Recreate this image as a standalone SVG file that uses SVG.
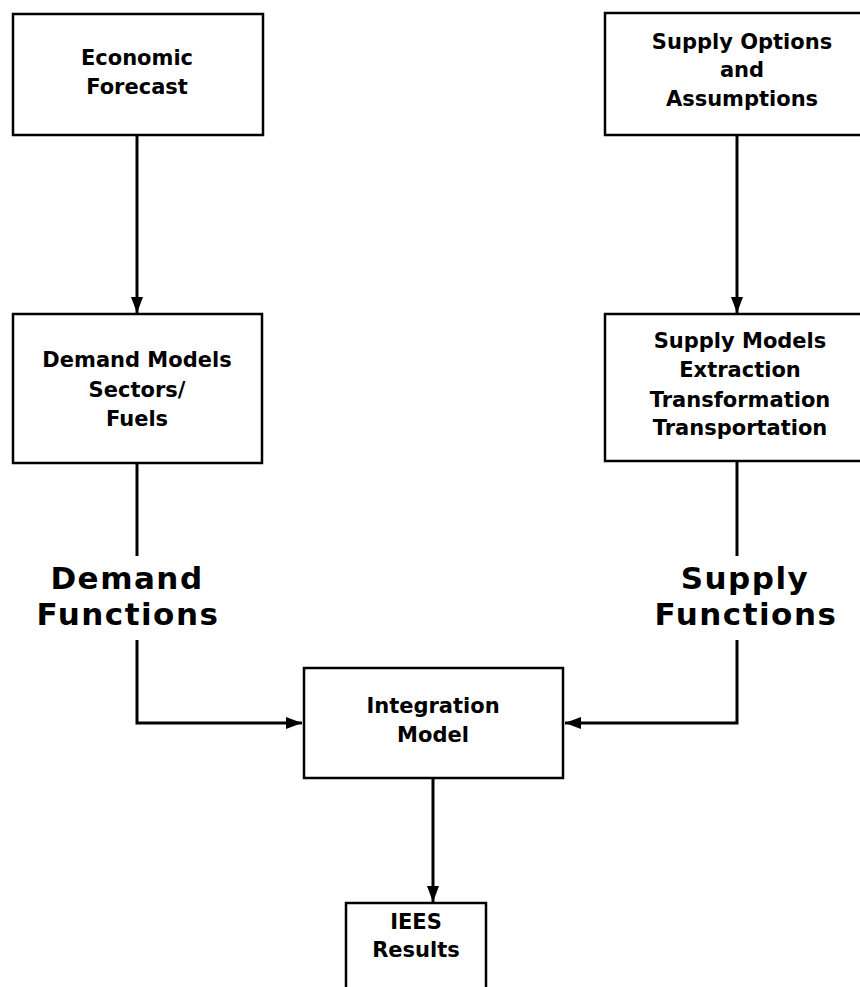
<svg xmlns="http://www.w3.org/2000/svg" width="860" height="987" viewBox="0 0 860 987">
<style>
.box{fill:#fff;stroke:#000;stroke-width:2.5}
.t{font-family:"DejaVu Sans","Liberation Sans",sans-serif;font-weight:bold;font-size:21px;text-anchor:middle;fill:#000}
.big{font-family:"DejaVu Sans","Liberation Sans",sans-serif;font-weight:bold;font-size:31px;letter-spacing:1.5px;text-anchor:middle;fill:#000}
.c{fill:none;stroke:#000;stroke-width:3}
</style>
<defs>
<marker id="ah" markerWidth="16" markerHeight="12" refX="16" refY="6" orient="auto" markerUnits="userSpaceOnUse">
<path d="M0,0 L16,6 L0,12 Z" fill="#000"/>
</marker>
</defs>
<rect width="860" height="987" fill="#fff"/>
<g id="connectors">
<path class="c" d="M137,135 V313" marker-end="url(#ah)"/>
<path class="c" d="M737,135 V313" marker-end="url(#ah)"/>
<path class="c" d="M137,463 V556"/>
<path class="c" d="M137,640 V723 H302" marker-end="url(#ah)"/>
<path class="c" d="M737,461 V556"/>
<path class="c" d="M737,640 V723 H565" marker-end="url(#ah)"/>
<path class="c" d="M433,778 V902" marker-end="url(#ah)"/>
</g>
<g id="economic-forecast">
<rect class="box" x="13" y="14" width="250" height="121"/>
<text class="t" x="137" y="65">Economic</text>
<text class="t" x="137" y="94">Forecast</text>
</g>
<g id="supply-options">
<rect class="box" x="605" y="13" width="270" height="122"/>
<text class="t" x="742" y="49">Supply Options</text>
<text class="t" x="742" y="77">and</text>
<text class="t" x="742" y="106">Assumptions</text>
</g>
<g id="demand-models">
<rect class="box" x="13" y="314" width="249" height="149"/>
<text class="t" x="137" y="367">Demand Models</text>
<text class="t" x="137" y="397">Sectors/</text>
<text class="t" x="137" y="426">Fuels</text>
</g>
<g id="supply-models">
<rect class="box" x="605" y="314" width="270" height="147"/>
<text class="t" x="740" y="348">Supply Models</text>
<text class="t" x="740" y="377">Extraction</text>
<text class="t" x="740" y="407">Transformation</text>
<text class="t" x="740" y="435">Transportation</text>
</g>
<g id="demand-functions">
<text class="big" x="127" y="589">Demand</text>
<text class="big" x="128" y="625">Functions</text>
</g>
<g id="supply-functions">
<text class="big" x="745" y="589">Supply</text>
<text class="big" x="746" y="625">Functions</text>
</g>
<g id="integration-model">
<rect class="box" x="304" y="668" width="259" height="110"/>
<text class="t" x="433" y="713">Integration</text>
<text class="t" x="433" y="742">Model</text>
</g>
<g id="iees-results">
<rect class="box" x="346" y="903" width="140" height="100"/>
<text class="t" x="416" y="929">IEES</text>
<text class="t" x="416" y="957">Results</text>
</g>
</svg>
